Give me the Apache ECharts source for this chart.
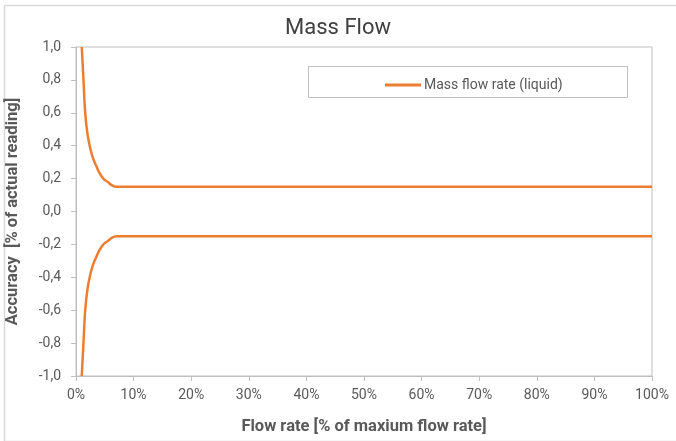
<!DOCTYPE html>
<html>
<head>
<meta charset="utf-8">
<script src="https://cdn.jsdelivr.net/npm/echarts@6/dist/echarts.min.js"></script>
<style>html,body{margin:0;padding:0;background:#fff;}#c{width:676px;height:441px;}</style>
</head>
<body>
<div id="c"></div>
<script>
var flowRate = [1, 1.3, 1.6, 2, 2.5, 3, 3.6, 4, 4.75, 5.5, 6.2, 7, 100];
var upperAccuracy = [1.0, 0.8, 0.6, 0.47, 0.38, 0.32, 0.27, 0.24, 0.2, 0.18, 0.16, 0.15, 0.15];
var lowerAccuracy = [-1.0, -0.8, -0.6, -0.47, -0.38, -0.32, -0.27, -0.24, -0.2, -0.18, -0.16, -0.15, -0.15];
var seriesName = 'Mass flow rate (liquid)';

function pairs(xs, ys) { return xs.map(function (x, i) { return [x, ys[i]]; }); }

var chart = echarts.init(document.getElementById('c'));
var font = 'Roboto, "Liberation Sans", sans-serif';
var lineColor = '#ED7D31';
chart.setOption({
  animation: false,
  textStyle: { fontFamily: font },
  title: {
    text: 'Mass Flow', left: 'center', top: 12,
    textStyle: { fontSize: 22, fontWeight: 'normal', color: '#404040', fontFamily: font }
  },
  graphic: [
    { type: 'rect', left: 2, top: 3, shape: { width: 673, height: 436 }, style: { fill: 'none', stroke: '#d9d9d9', lineWidth: 1.5 }, silent: true },
    { type: 'rect', left: 308, top: 66, shape: { width: 319, height: 31 }, style: { fill: '#fff', stroke: '#bfbfbf', lineWidth: 1 }, silent: true, z: 0 }
  ],
  legend: {
    left: 380, top: 73, itemWidth: 36, itemHeight: 3, itemGap: 4, icon: 'rect',
    data: [seriesName],
    textStyle: { fontSize: 14, color: '#595959', fontFamily: font, padding: [0, 0, 0, -2] },
    z: 10
  },
  grid: { left: 76, right: 24, top: 47, bottom: 65, show: true, borderColor: '#bfbfbf', borderWidth: 1, containLabel: false, outerBoundsMode: 'none' },
  xAxis: {
    type: 'value', min: 0, max: 100, interval: 10,
    name: 'Flow rate [% of maxium flow rate]', nameLocation: 'middle', nameGap: 42,
    nameTextStyle: { fontSize: 16.5, fontWeight: 'bold', color: '#595959', fontFamily: font },
    axisLine: { show: true, onZero: false, lineStyle: { color: '#bfbfbf' } },
    axisTick: { show: true, length: 5, lineStyle: { color: '#bfbfbf' } },
    axisLabel: { formatter: '{value}%', fontSize: 14, color: '#595959', margin: 12 },
    splitLine: { show: false }
  },
  yAxis: {
    type: 'value', min: -1, max: 1, interval: 0.2,
    name: 'Accuracy  [% of actual reading]', nameLocation: 'middle', nameGap: 55,
    nameTextStyle: { fontSize: 16.5, fontWeight: 'bold', color: '#595959', fontFamily: font },
    axisLine: { show: true, onZero: false, lineStyle: { color: '#bfbfbf' } },
    axisTick: { show: true, length: 5, lineStyle: { color: '#bfbfbf' } },
    axisLabel: {
      fontSize: 14, color: '#595959', margin: 15,
      formatter: function (v) { return (Math.round(v * 10) / 10).toFixed(1).replace('.', ','); }
    },
    splitLine: { show: false }
  },
  series: [
    { name: seriesName, type: 'line', data: pairs(flowRate, upperAccuracy), smooth: 0.4, symbol: 'none',
      lineStyle: { color: lineColor, width: 2.5 }, itemStyle: { color: lineColor } },
    { name: seriesName, type: 'line', data: pairs(flowRate, lowerAccuracy), smooth: 0.4, symbol: 'none',
      lineStyle: { color: lineColor, width: 2.5 }, itemStyle: { color: lineColor } }
  ]
});
</script>
</body>
</html>
